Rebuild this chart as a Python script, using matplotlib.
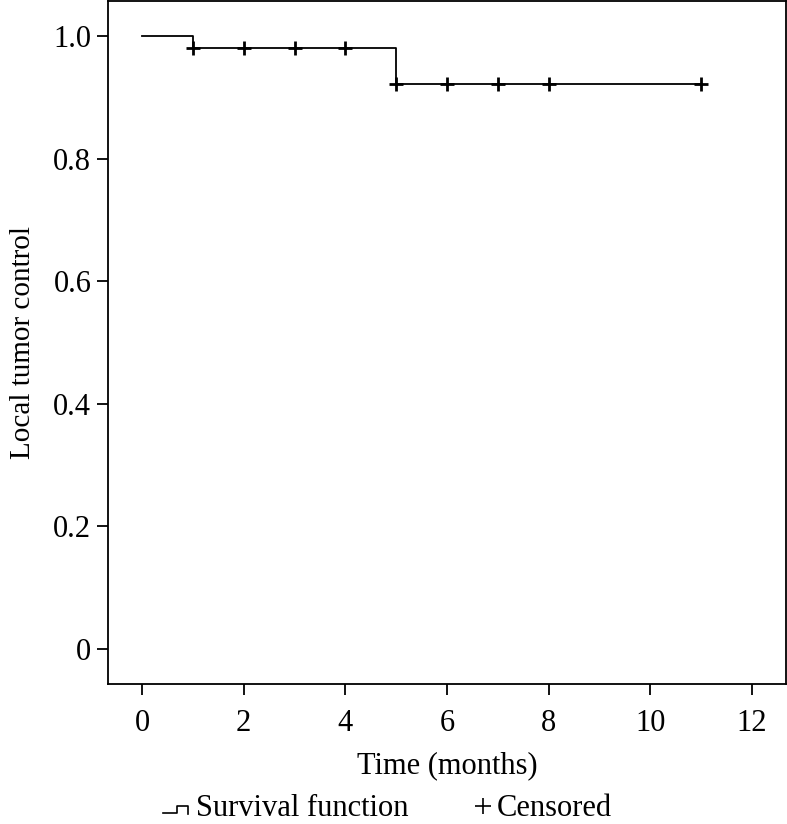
import matplotlib
matplotlib.use('Agg')
import matplotlib.pyplot as plt
from matplotlib.lines import Line2D

plt.rcParams['font.family'] = ['Liberation Serif', 'DejaVu Serif']

# ---------- data ----------
step_times = [0, 1, 5, 11]
step_surv = [1.0, 0.98, 0.922, 0.922]
censor_times = [1, 2, 3, 4, 5, 6, 7, 8, 11]
censor_surv = [0.98, 0.98, 0.98, 0.98, 0.922, 0.922, 0.922, 0.922, 0.922]
x_ticks = [0, 2, 4, 6, 8, 10, 12]
y_ticks = [0, 0.2, 0.4, 0.6, 0.8, 1.0]
y_labels = ['0', '0.2', '0.4', '0.6', '0.8', '1.0']

fig = plt.figure(figsize=(7.87, 8.24), dpi=100)
ax = fig.add_axes([108 / 787, 140 / 824, 678 / 787, 683 / 824])

ax.step(step_times, step_surv, where='post', color='black', lw=1.3)
ax.plot(censor_times, censor_surv, ls='none', marker='+', ms=10, mew=2, color='black')

ax.set_xlim(-0.67, 12.67)
ax.set_ylim(-0.057, 1.057)
ax.set_xticks(x_ticks)
ax.set_yticks(y_ticks)
ax.set_yticklabels(y_labels)
ax.tick_params(direction='out', length=8, width=1.3, labelsize=22)
ax.tick_params(axis='x', pad=10)
ax.tick_params(axis='y', pad=4)
for s in ax.spines.values():
    s.set_linewidth(1.3)

ax.set_xlabel('Time (months)', fontsize=22)
ax.set_ylabel('Local tumor control', fontsize=21)
ax.xaxis.set_label_coords(0.5, -0.120)
ax.yaxis.set_label_coords(-0.126, 0.5)
ax.xaxis.label.set_va('center')
ax.yaxis.label.set_va('center')

# legend drawn by hand along bottom
ly = 1 - 809 / 824
fig.add_artist(Line2D([163 / 787, 177 / 787, 177 / 787, 188 / 787, 188 / 787],
                      [1 - 813 / 824, 1 - 813 / 824, 1 - 806 / 824, 1 - 806 / 824, 1 - 814 / 824],
                      color='black', lw=1.2, transform=fig.transFigure))
fig.text(196 / 787, ly, 'Survival function', fontsize=22, va='center', ha='left')
fig.add_artist(Line2D([483 / 787], [1 - 806 / 824], marker='+', ms=12, mew=1.2, color='black',
                      transform=fig.transFigure))
fig.text(497 / 787, ly, 'Censored', fontsize=22, va='center', ha='left')

fig.savefig('out.png', dpi=100)
